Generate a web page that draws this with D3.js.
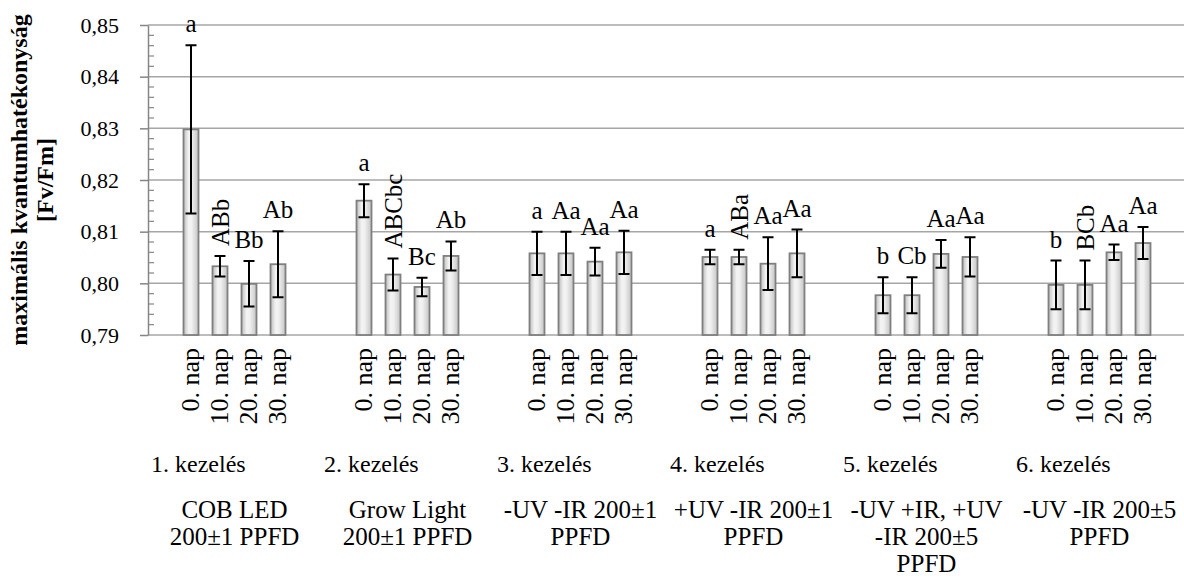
<!DOCTYPE html>
<html>
<head>
<meta charset="utf-8">
<script src="https://cdn.jsdelivr.net/npm/d3@7"></script>
<style>
  body { margin: 0; background: #fff; }
  svg text { font-family: "Liberation Serif", "Times New Roman", serif; fill: #000; }
</style>
</head>
<body>
<svg id="board" width="1184" height="581"></svg>
<script>
var groups = ['1. kezelés', '2. kezelés', '3. kezelés', '4. kezelés', '5. kezelés', '6. kezelés'];
var groupNotes = [
  ['COB LED', '200±1 PPFD'],
  ['Grow Light', '200±1 PPFD'],
  ['-UV -IR 200±1', 'PPFD'],
  ['+UV -IR 200±1', 'PPFD'],
  ['-UV +IR, +UV', '-IR 200±5', 'PPFD'],
  ['-UV -IR 200±5', 'PPFD']
];
var days = ['0. nap', '10. nap', '20. nap', '30. nap'];
var means = [
  [0.8298, 0.8033, 0.7999, 0.8037],
  [0.8160, 0.8017, 0.7993, 0.8053],
  [0.8058, 0.8058, 0.8042, 0.8060],
  [0.8051, 0.8051, 0.8038, 0.8058],
  [0.7977, 0.7977, 0.8057, 0.8051],
  [0.7997, 0.7997, 0.8060, 0.8078]
];
var errors = [
  [0.0163, 0.0020, 0.0044, 0.0064],
  [0.0032, 0.0031, 0.0018, 0.0028],
  [0.0042, 0.0042, 0.0027, 0.0042],
  [0.0014, 0.0014, 0.0051, 0.0046],
  [0.0035, 0.0035, 0.0027, 0.0038],
  [0.0047, 0.0047, 0.0015, 0.0031]
];
var letters = [
  ['a', 'ABb', 'Bb', 'Ab'],
  ['a', 'ABCbc', 'Bc', 'Ab'],
  ['a', 'Aa', 'Aa', 'Aa'],
  ['a', 'ABa', 'Aa', 'Aa'],
  ['b', 'Cb', 'Aa', 'Aa'],
  ['b', 'BCb', 'Aa', 'Aa']
];
var yTicks = [0.79, 0.80, 0.81, 0.82, 0.83, 0.84, 0.85];
var yTitle = ['maximális kvantumhatékonyság', '[Fv/Fm]'];

var plotLeft = 148, plotRight = 1186, plotTop = 25, plotBottom = 335;
var gridColor = '#a6a6a6';
var axisColor = '#868686';

var svg = d3.select('#board');
var fmt = d3.formatLocale({decimal: ',', thousands: ' ', grouping: [3], currency: ['', '']}).format('.2f');

var y = d3.scaleLinear().domain([0.79, 0.85]).range([plotBottom, plotTop]);
var xGroup = d3.scaleBand().domain(groups).range([plotLeft, plotRight]);
var xDay = d3.scaleBand().domain(days).range([0, xGroup.bandwidth()])
  .paddingInner(14 / 29).paddingOuter(1.224);

// bar gradient, darker at the sides
var grad = svg.append('defs').append('linearGradient')
  .attr('id', 'barFill').attr('x1', '0%').attr('x2', '100%').attr('y1', '0%').attr('y2', '0%');
[['0%', '#bdbdbd'], ['35%', '#f4f4f4'], ['55%', '#f0f0f0'], ['100%', '#c4c4c4']].forEach(function(s) {
  grad.append('stop').attr('offset', s[0]).attr('stop-color', s[1]);
});

// gridlines
svg.append('g').selectAll('line').data(yTicks).enter().append('line')
  .attr('x1', plotLeft).attr('x2', plotRight)
  .attr('y1', y).attr('y2', y)
  .attr('stroke', gridColor).attr('stroke-width', 1.5);

// y axis, major ticks outside
var yAxis = svg.append('g').attr('transform', 'translate(' + plotLeft + ',0)')
  .call(d3.axisLeft(y).tickValues(yTicks).tickFormat(fmt).tickSizeInner(8).tickSizeOuter(0).tickPadding(21));
yAxis.select('.domain').attr('stroke', axisColor).attr('stroke-width', 1.5);
yAxis.selectAll('.tick line').attr('stroke', axisColor).attr('stroke-width', 1.5);
yAxis.selectAll('.tick text').attr('font-size', 22).attr('font-family', '"Liberation Serif", serif');

// minor ticks inside
var minorTicks = d3.range(0, 31).map(function(i) { return 0.79 + i * 0.002; })
  .filter(function(v, i) { return i % 5 !== 0; });
svg.append('g').selectAll('line').data(minorTicks).enter().append('line')
  .attr('x1', plotLeft).attr('x2', plotLeft + 6)
  .attr('y1', y).attr('y2', y)
  .attr('stroke', axisColor).attr('stroke-width', 1.2);

// y title
var title = svg.append('text')
  .attr('transform', 'translate(0,' + (plotTop + plotBottom) / 2 + ') rotate(-90)')
  .attr('text-anchor', 'middle').attr('font-weight', 'bold').attr('font-size', 24);
title.selectAll('tspan').data(yTitle).enter().append('tspan')
  .attr('x', 0).attr('y', function(d, i) { return 27 + i * 26; })
  .text(function(d) { return d; });

// flatten data into cells
var cells = [];
groups.forEach(function(g, gi) {
  days.forEach(function(d, di) {
    cells.push({group: g, day: d, mean: means[gi][di], err: errors[gi][di], label: letters[gi][di]});
  });
});

function cx(c) {
  return xGroup(c.group) + xDay(c.day) + xDay.bandwidth() / 2;
}

// bars
svg.append('g').selectAll('rect').data(cells).enter().append('rect')
  .attr('x', function(c) { return xGroup(c.group) + xDay(c.day); })
  .attr('width', xDay.bandwidth())
  .attr('y', function(c) { return y(c.mean); })
  .attr('height', function(c) { return plotBottom - y(c.mean); })
  .attr('fill', 'url(#barFill)')
  .attr('stroke', '#7f7f7f').attr('stroke-width', 1.8);

// error bars
var errG = svg.append('g').attr('stroke', '#000').attr('stroke-width', 2).attr('fill', 'none');
errG.selectAll('path').data(cells).enter().append('path')
  .attr('d', function(c) {
    var x = cx(c), t = y(c.mean + c.err), b = y(c.mean - c.err), w = 5.5;
    return 'M' + (x - w) + ',' + t + 'H' + (x + w) + 'M' + x + ',' + t + 'V' + b +
      'M' + (x - w) + ',' + b + 'H' + (x + w);
  });

// significance letters; the long ones stand upright
var lab = svg.append('g').selectAll('text').data(cells).enter().append('text')
  .attr('font-size', 25)
  .text(function(c) { return c.label; });
lab.filter(function(c) { return c.label.length < 3; })
  .attr('text-anchor', 'middle')
  .attr('x', cx)
  .attr('y', function(c) { return y(c.mean + c.err) - 13; });
lab.filter(function(c) { return c.label.length >= 3; })
  .attr('text-anchor', 'start')
  .attr('transform', function(c) {
    return 'translate(' + (cx(c) + 9) + ',' + (y(c.mean + c.err) - 10) + ') rotate(-90)';
  });

// day labels
svg.append('g').selectAll('text').data(cells).enter().append('text')
  .attr('font-size', 26).attr('text-anchor', 'end')
  .attr('transform', function(c) { return 'translate(' + (cx(c) + 8) + ',348) rotate(-90)'; })
  .text(function(c) { return c.day; });

// group labels (they sit left of the group centre)
svg.append('g').selectAll('text').data(groups).enter().append('text')
  .attr('font-size', 24).attr('text-anchor', 'start')
  .attr('x', function(g) { return xGroup(g) + 3; })
  .attr('y', 472)
  .text(function(g) { return g; });

// treatment notes, centred under each group
var notes = svg.append('g').selectAll('text').data(groups).enter().append('text')
  .attr('font-size', 25).attr('text-anchor', 'middle');
notes.selectAll('tspan').data(function(g, i) {
    return groupNotes[i].map(function(t) { return {g: g, t: t}; });
  }).enter().append('tspan')
  .attr('x', function(d) { return xGroup(d.g) + xGroup.bandwidth() / 2; })
  .attr('y', function(d, i) { return 518 + i * 27; })
  .text(function(d) { return d.t; });
</script>
</body>
</html>
